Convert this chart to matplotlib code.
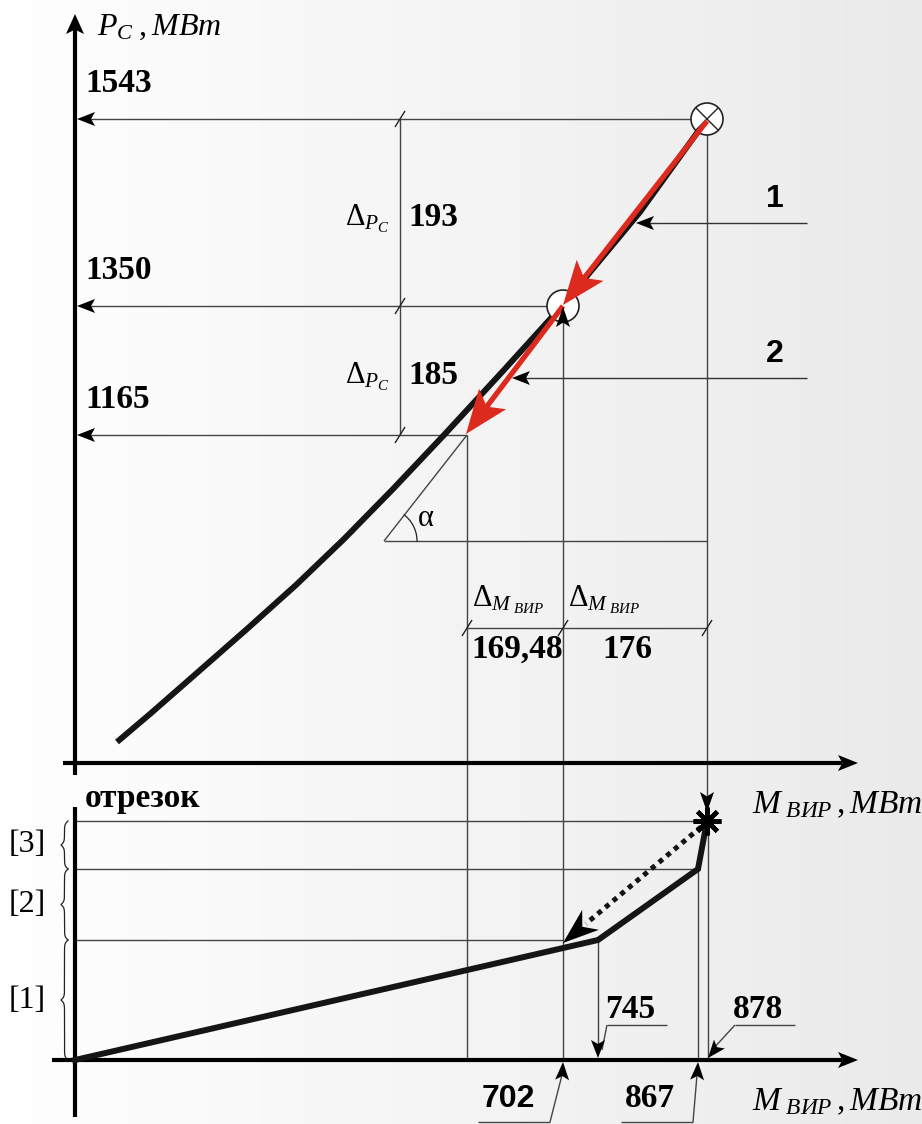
import numpy as np
import matplotlib.pyplot as plt
from matplotlib.patches import Polygon, Circle

plt.rcParams['mathtext.fontset'] = 'custom'
plt.rcParams['mathtext.rm'] = 'Liberation Serif'
plt.rcParams['mathtext.it'] = 'Liberation Serif:italic'
plt.rcParams['mathtext.bf'] = 'Liberation Serif:bold'

# --- values ---
pc_levels = [1543, 1350, 1165]          # P_C, MW
pc_deltas = [193, 185]
m_points = [878, 702, 532.52]           # M_VIR at the three operating points
m_deltas = [176, 169.48]
m_breaks = [0, 745, 867, 878]           # knees of the lower polyline
m_marks_up = [702, 867]
m_marks_down = [745, 878]
segment_labels = ['[1]', '[2]', '[3]']
curve_labels = ['1', '2']

# --- layout: the sketch is not to scale, value -> position on the sheet (px) ---
pc_ref, pc_pos = [1165, 1350, 1543], [435, 306, 119]
m_ref, m_pos = [0, 532.52, 702, 745, 867, 878], [75, 467, 563, 598, 698, 707]
seg_pos = [1060, 940, 869, 821]
curve_x = [117, 150, 198, 247, 296, 344, 393, 444, 503, 562, 640, 707]
curve_y = [742, 714, 672, 629, 585, 539, 489, 435, 371, 306, 212, 119]


def py(v):
    return np.interp(v, pc_ref, pc_pos)


def mx(v):
    return np.interp(v, m_ref, m_pos)


GRAY = '#444444'
RED = '#dc2a1e'
SERIF = 'Liberation Serif'
SANS = 'Liberation Sans'

fig = plt.figure(figsize=(9.22, 11.24), dpi=100)
ax = fig.add_axes([0, 0, 1, 1])
ax.set_xlim(0, 922)
ax.set_ylim(1124, 0)
ax.axis('off')

# light background gradient
grad = np.linspace(0.995, 0.915, 256)[None, :]
ax.imshow(grad, extent=[0, 922, 1124, 0], cmap='gray', vmin=0, vmax=1,
          aspect='auto', zorder=0)


def head(tip, frm, length=18, half=7, color='k', notch=0.22, z=6):
    tip = np.array(tip, float)
    d = tip - np.array(frm, float)
    d /= np.hypot(*d)
    n = np.array([-d[1], d[0]])
    base = tip - d * length
    pts = [tip, base + n * half, tip - d * length * (1 - notch), base - n * half]
    ax.add_patch(Polygon(pts, closed=True, fc=color, ec='none', zorder=z))


def line(xs, ys, lw=1.0, color=GRAY, z=2, **kw):
    ax.plot(xs, ys, color=color, lw=lw, zorder=z, solid_capstyle='butt', **kw)


def slash(x, y):
    line([x - 5, x + 5], [y + 8, y - 8], lw=1.0, color='#222222')


def brace(x, y0, y1, w=7, beta=0.6):
    yy = np.linspace(y0, y1, 201)
    h = yy[:101]
    f = 1 / (1 + np.exp(-beta * (h - h[0]))) + 1 / (1 + np.exp(-beta * (h - h[-1])))
    f = np.concatenate([f, f[-2::-1]])
    ax.plot(x - (f - 0.5) * w, yy, color='#222222', lw=0.9, zorder=3)


# ---------------- upper chart ----------------
line([75, 75], [775, 28], lw=3, color='k', z=4)
head((75, 14), (75, 100), length=20, half=9)
line([63, 842], [763, 763], lw=3, color='k', z=4)
head((858, 763), (700, 763), length=20, half=8)

ax.text(97, 35, r'$P_{C}\;,MBm$', fontsize=23, ha='left', va='baseline')

xs_pt = [mx(m) for m in m_points]
ys_pt = [py(p) for p in pc_levels]

# horizontal leaders to the P_C axis
for x, y, v in zip(xs_pt, ys_pt, pc_levels):
    line([x, 90], [y, y])
    head((77, y), (200, y), length=18, half=7)
    ax.text(85, y - 27, str(v), fontsize=24, fontweight='bold', family=SERIF,
            ha='left', va='baseline')

# P_C dimension line
line([400, 400], [ys_pt[0], ys_pt[-1]])
for y in ys_pt:
    slash(400, y)
for (ya, yb), d in zip(zip(ys_pt[:-1], ys_pt[1:]), pc_deltas):
    ym = (ya + yb) / 2 + 10
    ax.text(408, ym + 4, str(d), fontsize=24, fontweight='bold', family=SERIF,
            ha='left', va='baseline')
    ax.text(345, ym + 3, r'$\Delta_{P_C}$', fontsize=22, ha='left', va='baseline')

# verticals down from the operating points
line([xs_pt[0], xs_pt[0]], [ys_pt[0], 806])
head((xs_pt[0], 812), (xs_pt[0], 700), length=20, half=7)
line([xs_pt[1], xs_pt[1]], [ys_pt[1] + 14, 1060])
head((xs_pt[1], ys_pt[1] + 1), (xs_pt[1], 400), length=20, half=7, z=9)
line([xs_pt[2], xs_pt[2]], [ys_pt[2], 1060])

# angle alpha
line([384, xs_pt[0]], [541, 541])
line([384, xs_pt[2]], [541, ys_pt[2]])
t = np.linspace(0, np.deg2rad(52), 40)
ax.plot(384 + 33 * np.cos(t), 541 - 33 * np.sin(t), color='#222222', lw=0.9, zorder=3)
ax.text(418, 526, 'α', fontsize=22, family=SERIF, ha='left', va='baseline')

# M_VIR dimension line
line([xs_pt[2], xs_pt[0]], [628, 628])
for x in xs_pt:
    slash(x, 628)
for (xa, xb), d in zip(zip(xs_pt[1::-1], xs_pt[2:0:-1]), m_deltas[::-1]):
    x0 = min(xa, xb)
    ax.text(x0 + 5, 606, r'$\Delta_{M_{\ ВИР}}$', fontsize=22, ha='left', va='baseline')
    ax.text(x0 + 4 if d != 176 else x0 + 39, 658, f'{d:g}'.replace('.', ','),
            fontsize=24, fontweight='bold', family=SERIF, ha='left', va='baseline')

# the curve
ax.plot(curve_x, curve_y, color='#151515', lw=4.3, zorder=5, solid_capstyle='butt',
        solid_joinstyle='round')

# numbered leaders
for lab, y, xt in zip(curve_labels, [223, 378], [636, 512]):
    line([807, xt + 10], [y, y], color='#333333')
    head((xt, y), (807, y), length=18, half=7)
    ax.text(775, y - 16, lab, fontsize=23, fontweight='bold', family=SANS,
            ha='center', va='baseline')

# markers on the curve
ax.add_patch(Circle((xs_pt[0], ys_pt[0]), 16, fc='white', ec='#222222', lw=1.2, zorder=6))
r = 16 / np.sqrt(2)
line([xs_pt[0] - r, xs_pt[0] + r], [ys_pt[0] - r, ys_pt[0] + r], color='#222222', z=7)
line([xs_pt[0] - r, xs_pt[0] + r], [ys_pt[0] + r, ys_pt[0] - r], color='#222222', z=7)
ax.add_patch(Circle((xs_pt[1], ys_pt[1]), 16, fc='white', ec='#222222', lw=1.2, zorder=6))

# red direction arrows
for (xa, ya), (xb, yb) in [((xs_pt[0], ys_pt[0] + 2), (xs_pt[1], ys_pt[1] - 1)),
                           ((xs_pt[1], ys_pt[1]), (xs_pt[2] - 1, ys_pt[2] - 1))]:
    d = np.array([xb - xa, yb - ya], float)
    d /= np.hypot(*d)
    bx, by = np.array([xb, yb]) - d * 32
    ax.plot([xa, bx], [ya, by], color=RED, lw=3.8, zorder=8, solid_capstyle='butt')
    head((xb, yb), (xa, ya), length=44, half=17, color=RED, notch=0.22, z=8)

# ---------------- lower chart ----------------
line([75, 75], [807, 1117], lw=3, color='k', z=4)
line([52, 842], [1060, 1060], lw=3, color='k', z=4)
head((858, 1060), (700, 1060), length=20, half=8)
ax.text(85, 807, 'отрезок', fontsize=24, fontweight='bold', family=SERIF,
        ha='left', va='baseline')

bx = [mx(m) for m in m_breaks]
line([75, xs_pt[0]], [seg_pos[3], seg_pos[3]])
line([75, bx[2]], [seg_pos[2], seg_pos[2]])
line([75, xs_pt[1]], [seg_pos[1], seg_pos[1]])

for lab, (ya, yb) in zip(segment_labels, zip(seg_pos[:-1], seg_pos[1:])):
    brace(68, yb, ya)
    ax.text(27, (ya + yb) / 2, lab, fontsize=23, family=SERIF, ha='center', va='center')

ax.plot(bx, [seg_pos[0], seg_pos[1], seg_pos[2], seg_pos[3]], color='#151515',
        lw=4.3, zorder=5, solid_joinstyle='miter')
ax.plot(xs_pt[0], seg_pos[3], marker=(8, 2, 0), ms=20, mew=3.2, color='k', zorder=7)
ax.plot(xs_pt[0], seg_pos[3], marker='o', ms=9, color='k', zorder=7)

# dotted return arrow
tip = np.array([xs_pt[1], 943.0])
st = np.array([xs_pt[0] - 6, seg_pos[3] + 6])
d = (tip - st) / np.hypot(*(tip - st))
be = tip - d * 30
ax.plot([st[0], be[0]], [st[1], be[1]], color='#151515', lw=3.6, ls=(0, (1, 1)),
        zorder=6, dash_capstyle='butt')
head(tip, st, length=36, half=13, notch=0.3)

# verticals to the lower axis
line([bx[1], bx[1]], [seg_pos[1], 1045])
line([bx[2], bx[2]], [seg_pos[2], 1060])
line([bx[3] + 1, bx[3] + 1], [seg_pos[3], 1060])

# value call-outs under / over the axis
for v, xt in zip(m_marks_down, [607, 735]):
    x = mx(v) + (1 if v == 878 else 0)
    line([xt, xt + 60], [1025, 1025])
    line([xt, x + 4], [1025, 1050])
    head((x, 1058), (xt, 1025) if v == 878 else (x, 1000), length=18, half=7)
    ax.text(xt - 2, 1018, str(v), fontsize=24, fontweight='bold', family=SERIF,
            ha='left', va='baseline')

for v, xt, fam in zip(m_marks_up, [550, 693], [SANS, SERIF]):
    x = mx(v)
    line([xt - 72, xt], [1122, 1122])
    line([xt, x - 1], [1122, 1075])
    head((x, 1062), (x - 3, 1122), length=18, half=7)
    ax.text(xt - 68, 1107, str(v), fontsize=23 if fam == SANS else 24,
            fontweight='bold', family=fam, ha='left', va='baseline')

for yb in [813, 1110]:
    ax.text(752, yb, r'$M_{\ ВИР}\,,MBm$', fontsize=24, ha='left', va='baseline')

fig.savefig('out.png', dpi=100)
